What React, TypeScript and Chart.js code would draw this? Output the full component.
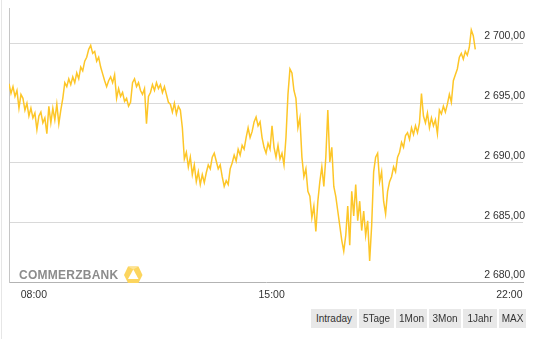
import React, { useEffect, useRef } from "react";
import { Chart, registerables } from "chart.js";

Chart.register(...registerables);

// minutes relative to 08:00, sampling interval of the series
const startMinute = -44;
const stepMinutes = 3.52;

const prices = [
  2696.64, 2695.82, 2696.39, 2695.57, 2696.07, 2694.59, 2695.74, 2695.41, 2694.43, 2695.0,
  2693.93, 2694.59, 2693.77, 2694.18, 2692.79, 2693.93, 2694.26, 2693.36, 2693.77, 2692.46,
  2694.75, 2693.36, 2694.59, 2693.61, 2694.92, 2693.28, 2694.43, 2695.41, 2696.72, 2696.39,
  2697.05, 2696.56, 2697.21, 2696.72, 2697.54, 2697.05, 2698.03, 2697.71, 2698.52, 2698.85,
  2699.51, 2699.84, 2699.18, 2699.34, 2698.52, 2698.85, 2698.03, 2697.46, 2696.89, 2696.39,
  2696.89, 2697.21, 2696.72, 2697.38, 2695.41, 2696.23, 2695.57, 2695.9, 2695.16, 2695.41,
  2694.75, 2695.08, 2696.72, 2697.05, 2696.39, 2696.72, 2696.07, 2695.74, 2696.23, 2693.28,
  2695.57, 2695.9, 2696.56, 2696.07, 2696.72, 2696.23, 2696.56, 2695.9, 2696.39, 2695.74,
  2695.08, 2694.92, 2694.26, 2695.0, 2694.1, 2694.75, 2694.43, 2692.95, 2690.33, 2690.9,
  2689.67, 2690.49, 2689.02, 2689.84, 2688.44, 2689.26, 2688.2, 2689.02, 2688.36, 2689.18,
  2689.84, 2689.51, 2690.49, 2690.82, 2690.16, 2689.51, 2689.84, 2688.85, 2688.03, 2688.52,
  2688.2, 2689.51, 2690.0, 2690.66, 2690.16, 2691.15, 2690.66, 2691.48, 2691.15, 2692.13,
  2692.95, 2692.13, 2692.62, 2693.44, 2693.85, 2693.11, 2693.44, 2692.13, 2691.31, 2690.82,
  2691.64, 2691.15, 2693.11, 2691.31, 2690.49, 2691.48, 2690.33, 2690.82, 2689.84, 2692.13,
  2695.74, 2697.87, 2697.54, 2696.07, 2695.41, 2692.95, 2693.77, 2690.49, 2688.85, 2689.51,
  2687.62, 2687.21, 2685.41, 2686.39, 2684.26, 2686.8, 2688.44, 2689.67, 2688.03, 2690.49,
  2694.43, 2690.08, 2691.31, 2688.03, 2687.21, 2685.98, 2684.75, 2683.52, 2682.62, 2683.93,
  2686.39, 2683.11, 2687.62, 2685.57, 2688.2, 2685.16, 2686.8, 2684.34, 2685.98, 2683.93,
  2685.16, 2681.8, 2684.75, 2689.26, 2690.49, 2690.82, 2688.44, 2689.26, 2686.8, 2685.74,
  2687.62, 2688.44, 2688.85, 2689.67, 2689.26, 2690.49, 2690.9, 2691.72, 2691.31, 2692.3,
  2692.54, 2691.97, 2692.95, 2692.38, 2693.11, 2692.54, 2693.36, 2695.82, 2693.93, 2693.36,
  2694.18, 2692.95, 2693.77, 2693.11, 2693.61, 2692.46, 2694.43, 2694.1, 2694.75, 2694.26,
  2694.92, 2695.74, 2695.08, 2696.89, 2697.38, 2697.87, 2698.85, 2699.18, 2698.69, 2699.34,
  2699.02, 2699.67, 2701.15, 2700.66, 2699.51,
];

const yTickValues = [2680, 2685, 2690, 2695, 2700];
const xTickValues = [0, 420, 840];
const xTickLabels = ["08:00", "15:00", "22:00"];
const periodButtons = ["Intraday", "5Tage", "1Mon", "3Mon", "1Jahr", "MAX"];
const buttonWidths = [46, 35, 31, 32, 34, 27];

const FONT = '"Liberation Sans", Arial, sans-serif';

function formatPrice(v: number): string {
  const [i, d] = v.toFixed(2).split(".");
  return i.replace(/\B(?=(\d{3})+(?!\d))/g, " ") + "," + d;
}

export default function App() {
  const canvasRef = useRef<HTMLCanvasElement | null>(null);

  useEffect(() => {
    if (!canvasRef.current) return;
    const points = prices.map((p, i) => ({ x: startMinute + i * stepMinutes, y: p }));
    const chart = new Chart(canvasRef.current, {
      type: "line",
      data: {
        datasets: [
          {
            data: points,
            borderColor: "rgb(253,198,40)",
            borderWidth: 1.5,
            pointRadius: 0,
            tension: 0,
            fill: false,
          },
        ],
      },
      options: {
        animation: false,
        responsive: false,
        devicePixelRatio: 1,
        layout: { padding: { top: 8, left: 9, right: 6, bottom: 32 } },
        plugins: { legend: { display: false }, tooltip: { enabled: false } },
        scales: {
          x: {
            type: "linear",
            min: -44,
            max: 864,
            grid: { display: false, drawTicks: false },
            border: { display: true, color: "#b3b3b3" },
            afterBuildTicks: (s: any) => {
              s.ticks = xTickValues.map((v) => ({ value: v }));
            },
            ticks: {
              autoSkip: false,
              maxRotation: 0,
              padding: 6,
              color: "#333",
              font: { family: FONT, size: 10.5 },
              callback: (v: any) => {
                const k = xTickValues.indexOf(Number(v));
                return k >= 0 ? xTickLabels[k] : "";
              },
            },
          },
          y: {
            type: "linear",
            position: "right",
            min: 2680,
            max: 2702.95,
            afterBuildTicks: (s: any) => {
              s.ticks = yTickValues.map((v) => ({ value: v }));
            },
            grid: {
              drawTicks: false,
              color: (ctx: any) => (ctx.tick && ctx.tick.value === 2680 ? "rgba(0,0,0,0)" : "#d9d9d9"),
            },
            border: { display: false },
            ticks: {
              mirror: true,
              padding: 2,
              labelOffset: -7,
              color: "#333",
              font: { family: FONT, size: 10.5 },
              callback: (v: any) => formatPrice(Number(v)),
            },
          },
          yl: {
            type: "linear",
            axis: "y",
            position: "left",
            grid: { display: false, drawTicks: false },
            ticks: { display: false },
            border: { display: true, color: "#c6c6c6" },
          },
        },
      },
    });
    return () => chart.destroy();
  }, []);

  let bx = 311;
  const buttons = periodButtons.map((label, i) => {
    const left = bx;
    bx += buttonWidths[i] + 2;
    return (
      <div
        key={label}
        style={{
          position: "absolute",
          left,
          top: 309,
          width: buttonWidths[i],
          height: 19,
          lineHeight: "19px",
          background: "#e8e8e8",
          color: "#333",
          fontFamily: FONT,
          fontSize: 10,
          textAlign: "center",
        }}
      >
        {label}
      </div>
    );
  });

  return (
    <div style={{ position: "fixed", left: 0, top: 0, width: 533, height: 339, background: "#fff", overflow: "hidden" }}>
      <div style={{ position: "absolute", left: 1, top: 0, width: 1, height: 339, background: "#e6e6e6" }} />
      <canvas ref={canvasRef} width={533} height={339} style={{ position: "absolute", left: 0, top: 0, display: "block" }} />
      <div
        style={{
          position: "absolute",
          left: 19,
          top: 268,
          fontFamily: FONT,
          fontWeight: "bold",
          fontSize: 12,
          lineHeight: "14px",
          color: "#8c8c8c",
          letterSpacing: 0.25,
        }}
      >
        COMMERZBANK
      </div>
      <svg style={{ position: "absolute", left: 122, top: 265 }} width={23} height={20} viewBox="0 0 23 20">
        <polygon points="6,1.5 16.5,1.5 20.5,10 16.5,18 6,18 2,10" fill="#fcd55e" />
        <polygon points="6,1.5 16.5,1.5 11.3,4.5" fill="#fde394" />
        <polygon points="11.3,4.5 16.5,14 6,14" fill="#ffffff" />
      </svg>
      {buttons}
    </div>
  );
}
